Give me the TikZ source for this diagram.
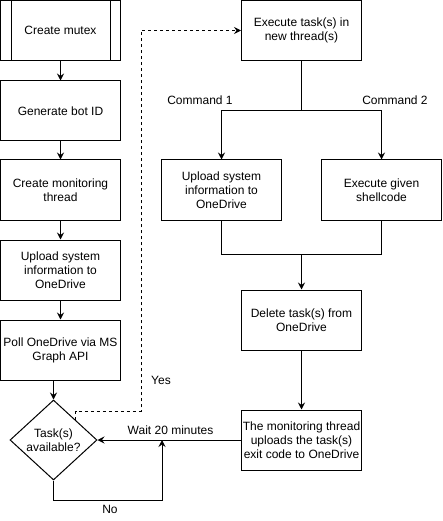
\documentclass[tikz,border=0pt]{standalone}
\usepackage{fontspec}
\setmainfont{Liberation Sans}
\usetikzlibrary{shapes.geometric,arrows.meta}
\tikzset{
  box/.style={draw, line width=1pt, minimum width=120pt, minimum height=60pt, inner sep=0pt, align=center, font=\fontsize{12}{14}\selectfont},
  dec/.style={draw, line width=1pt, diamond, aspect=1.09, minimum width=87pt, minimum height=80pt, inner sep=0pt, align=center, font=\fontsize{12}{14}\selectfont},
  lbl/.style={inner sep=0pt, font=\fontsize{12}{14}\selectfont},
  conn/.style={line width=1pt, -{Stealth[length=7pt,width=7pt,inset=2.5pt]}},
  plain/.style={line width=1pt},
}
\begin{document}
\begin{tikzpicture}[x=1pt,y=-1pt]
\useasboundingbox (0,0) rectangle (442,521);
% left column
\node[box] (mutex) at (60.5,30.5) {Create mutex};
\draw[plain] ([xshift=11pt]mutex.north west) -- ([xshift=11pt]mutex.south west);
\draw[plain] ([xshift=-11pt]mutex.north east) -- ([xshift=-11pt]mutex.south east);
\node[box] (botid) at (60.5,111) {Generate bot ID};
\node[box] (monit) at (60.5,190) {Create monitoring\\thread};
\node[box] (up1) at (60.5,270) {Upload system\\information to\\OneDrive};
\node[box] (poll) at (60.5,350) {Poll OneDrive via MS\\Graph API};
\node[dec] (dia) at (53.5,440) {Task(s)\\available?};
% right column
\node[box] (exec) at (301.5,30.5) {Execute task(s) in\\new thread(s)};
\node[box] (up2) at (221.5,190) {Upload system\\information to\\OneDrive};
\node[box] (sh) at (381.5,190) {Execute given\\shellcode};
\node[box] (del) at (301.5,320) {Delete task(s) from\\OneDrive};
\node[box] (mon) at (301.5,440) {The monitoring thread\\uploads the task(s)\\exit code to OneDrive};
% labels
\node[lbl] (c1) at (200,100) {Command 1};
\node[lbl] (c2) at (395,100) {Command 2};
\node[lbl] (yes) at (161,380) {Yes};
\node[lbl] (wait) at (170.5,430) {Wait 20 minutes};
\node[lbl] (no) at (110,509) {No};
% helper coordinates
\coordinate (br) at (301.5,111);
\coordinate (jn) at (301.5,254);
\coordinate (d1) at (141,411);
\coordinate (n1) at (162,500);
% left connectors
\draw[conn] (mutex) -- (botid);
\draw[conn] (botid) -- (monit);
\draw[conn] (monit) -- (up1);
\draw[conn] (up1) -- (poll);
\draw[conn] (poll.south -| dia.north) -- (dia.north);
% yes (dashed)
\draw[conn, dashed] (dia.north east) |- (d1) |- (exec.west);
% no loop
\draw[conn] (dia.south) |- (n1) -- (n1 |- dia.east);
% right connectors
\draw[plain] (exec.south) -- (br);
\draw[conn] (br) -| (up2.north);
\draw[conn] (br) -| (sh.north);
\draw[plain] (up2.south) |- (jn);
\draw[plain] (sh.south) |- (jn);
\draw[conn] (jn) -- (del.north);
\draw[conn] (del) -- (mon);
\draw[conn] (mon.west) -- (dia.east);
\end{tikzpicture}
\end{document}
